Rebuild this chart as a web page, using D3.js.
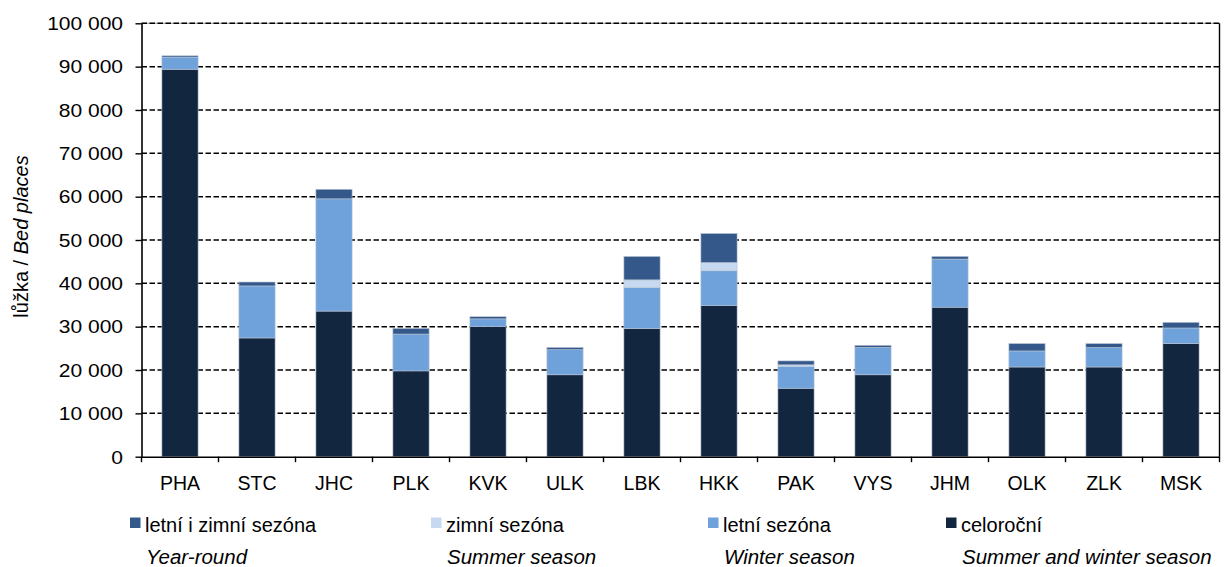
<!DOCTYPE html>
<html><head><meta charset="utf-8">
<script src="https://cdn.jsdelivr.net/npm/d3@7"></script>
<style>
body{margin:0;background:#fff;}
text{font-family:"Liberation Sans",Arial,sans-serif;fill:#000;}
</style></head>
<body><svg id="c" width="1230" height="567"></svg>
<script>
const categories=["PHA","STC","JHC","PLK","KVK","ULK","LBK","HKK","PAK","VYS","JHM","OLK","ZLK","MSK"];
const celorocni=[89400,27400,33600,19800,30000,18900,29600,34900,15800,18900,34500,20700,20700,26100];
const letniSezona=[2800,12000,25900,8500,1800,5800,9400,8000,5000,6300,11100,3700,4500,3600];
const zimniSezona=[0,0,0,0,0,0,1800,1900,400,0,0,0,0,0];
const letniIZimni=[300,900,2200,1300,500,500,5400,6700,900,500,600,1700,900,1300];
const yTicks=[0,10000,20000,30000,40000,50000,60000,70000,80000,90000,100000];
const seriesKeys=["celorocni","letni","zimni","oboji"];
const seriesColors={celorocni:"#12263f",letni:"#6fa1da",zimni:"#c6d9f0",oboji:"#34588a"};
const legendItems=[
 {key:"oboji",cz:"letní i zimní sezóna",en:"Year-round",x:130},
 {key:"zimni",cz:"zimní sezóna",en:"Summer season",x:431},
 {key:"letni",cz:"letní sezóna",en:"Winter season",x:708},
 {key:"celorocni",cz:"celoroční",en:"Summer and winter season",x:946}
];

const rows=categories.map((c,i)=>({cat:c,celorocni:celorocni[i],letni:letniSezona[i],zimni:zimniSezona[i],oboji:letniIZimni[i]}));
const svg=d3.select("#c");
const m={l:141.5,r:10.5,t:23.3,b:110.3};
const W=1230,H=567;
const x=d3.scaleBand().domain(categories).range([m.l,W-m.r]).paddingInner(0.53).paddingOuter(0.265);
const y=d3.scaleLinear().domain([0,100000]).range([H-m.b,m.t]);
const loc=d3.formatLocale({decimal:",",thousands:"\u2009",grouping:[3],currency:["",""]});
const fmt=v=>loc.format(",")(v).replace("\u2009"," ");

// gridlines
svg.append("line").attr("x1",m.l).attr("x2",W-m.r).attr("y1",y(100000)).attr("y2",y(100000)).attr("stroke","#999").attr("stroke-width",1);
svg.append("g").selectAll("line").data(yTicks.filter(d=>d>0)).join("line")
 .attr("x1",m.l).attr("x2",W-m.r).attr("y1",d=>y(d)).attr("y2",d=>y(d))
 .attr("stroke","#000").attr("stroke-width",1.5).attr("stroke-dasharray","5.5,2.5");
// right border
svg.append("line").attr("x1",W-m.r).attr("x2",W-m.r).attr("y1",y(100000)).attr("y2",y(0)).attr("stroke","#000").attr("stroke-width",1.4);

// bars
const stack=d3.stack().keys(seriesKeys)(rows);
svg.append("g").selectAll("g").data(stack).join("g").attr("fill",d=>seriesColors[d.key])
 .selectAll("rect").data(d=>d.filter(s=>s[1]-s[0]>0)).join("rect")
 .attr("x",d=>x(d.data.cat)).attr("width",x.bandwidth())
 .attr("y",d=>y(d[1])).attr("height",d=>y(d[0])-y(d[1]))
 .attr("stroke","#b8c4d4").attr("stroke-width",0.6);

// y axis
const ya=svg.append("g").attr("transform",`translate(${m.l},0)`)
 .call(d3.axisLeft(y).tickValues(yTicks).tickFormat(fmt).tickSize(6).tickSizeOuter(0));
ya.select(".domain").attr("stroke","#000").attr("stroke-width",1.6);
ya.selectAll(".tick line").attr("stroke","#000").attr("stroke-width",1.4);
ya.selectAll(".tick text").attr("font-size",17.5).attr("font-family","Liberation Sans, Arial, sans-serif")
 .attr("x",-18.5/1.2).attr("dy","0.36em").attr("transform","scale(1.2,1)");

// x axis
const xa=svg.append("g").attr("transform",`translate(0,${y(0)})`)
 .call(d3.axisBottom(x).tickSize(0).tickSizeOuter(0));
xa.select(".domain").attr("stroke","#000").attr("stroke-width",1.6);
xa.selectAll(".tick text").attr("font-size",19.5).attr("font-family","Liberation Sans, Arial, sans-serif").attr("y",33.5).attr("dy",0);
const bounds=categories.map(c=>x(c)-x.step()*x.paddingInner()/2).concat([W-m.r]);
xa.append("g").selectAll("line").data(bounds).join("line")
 .attr("x1",d=>d).attr("x2",d=>d).attr("y1",0).attr("y2",5.5).attr("stroke","#000").attr("stroke-width",1.4);

// axis title
svg.append("text").attr("transform","translate(28,236.5) rotate(-90)").attr("text-anchor","middle").attr("font-size",20)
 .call(t=>{t.append("tspan").text("lůžka / ");t.append("tspan").attr("font-style","italic").text("Bed places");});

// legend
const lg=svg.append("g");
legendItems.forEach(it=>{
 lg.append("rect").attr("x",it.x).attr("y",517.5).attr("width",10.5).attr("height",10.5).attr("fill",seriesColors[it.key]);
 lg.append("text").attr("x",it.x+15).attr("y",532.3).attr("font-size",20).text(it.cz);
 lg.append("text").attr("x",it.x+16).attr("y",564).attr("font-size",20.5).attr("font-style","italic").text(it.en);
});
</script></body></html>
